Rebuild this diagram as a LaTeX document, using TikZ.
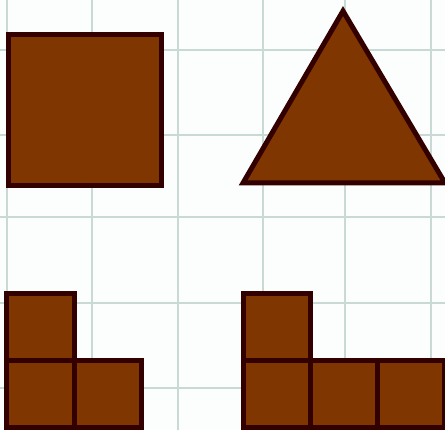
\documentclass[tikz,border=0pt]{standalone}
\usepackage{xcolor}
\usepackage{tikz}
\usetikzlibrary{positioning, calc}

\definecolor{clay}{HTML}{7F3600}
\definecolor{clayedge}{HTML}{330000}
\definecolor{gridgreen}{HTML}{C9D9D4}
\definecolor{paper}{HTML}{FBFEFD}

\begin{document}
\begin{tikzpicture}[x=0.03cm, y=-0.03cm,
    piece/.style={draw=clayedge, fill=clay, line width=0.15cm, line join=miter},
    paperline/.style={draw=gridgreen, line width=0.08cm}]
    % Paper background and page size
    \fill[paper] (0,0) rectangle (445,430);
    \useasboundingbox (0,0) rectangle (445,430);

    % Graph paper lines
    \foreach \gx in {7, 92, 178, 263, 345, 431} {
        \draw[paperline] (\gx,0) -- (\gx,430);
    }
    \foreach \gy in {50, 135, 217, 303, 388} {
        \draw[paperline] (0,\gy) -- (445,\gy);
    }

    % Top row: square and triangle
    \draw[piece] (8,35) rectangle (161,186); % square
    \draw[piece] (343,11) -- (445,183) -- (243,183) -- cycle; % triangle

    % Bottom left: three unit squares
    \draw[piece] (6,294) rectangle (74,361);
    \draw[piece] (6,361) rectangle (74,428);
    \draw[piece] (74,361) rectangle (141,428);

    % Bottom right: four unit squares
    \draw[piece] (243,294) rectangle (310,361);
    \draw[piece] (243,361) rectangle (310,428);
    \draw[piece] (310,361) rectangle (377,428);
    \draw[piece] (377,361) rectangle (444,428);
\end{tikzpicture}
\end{document}
